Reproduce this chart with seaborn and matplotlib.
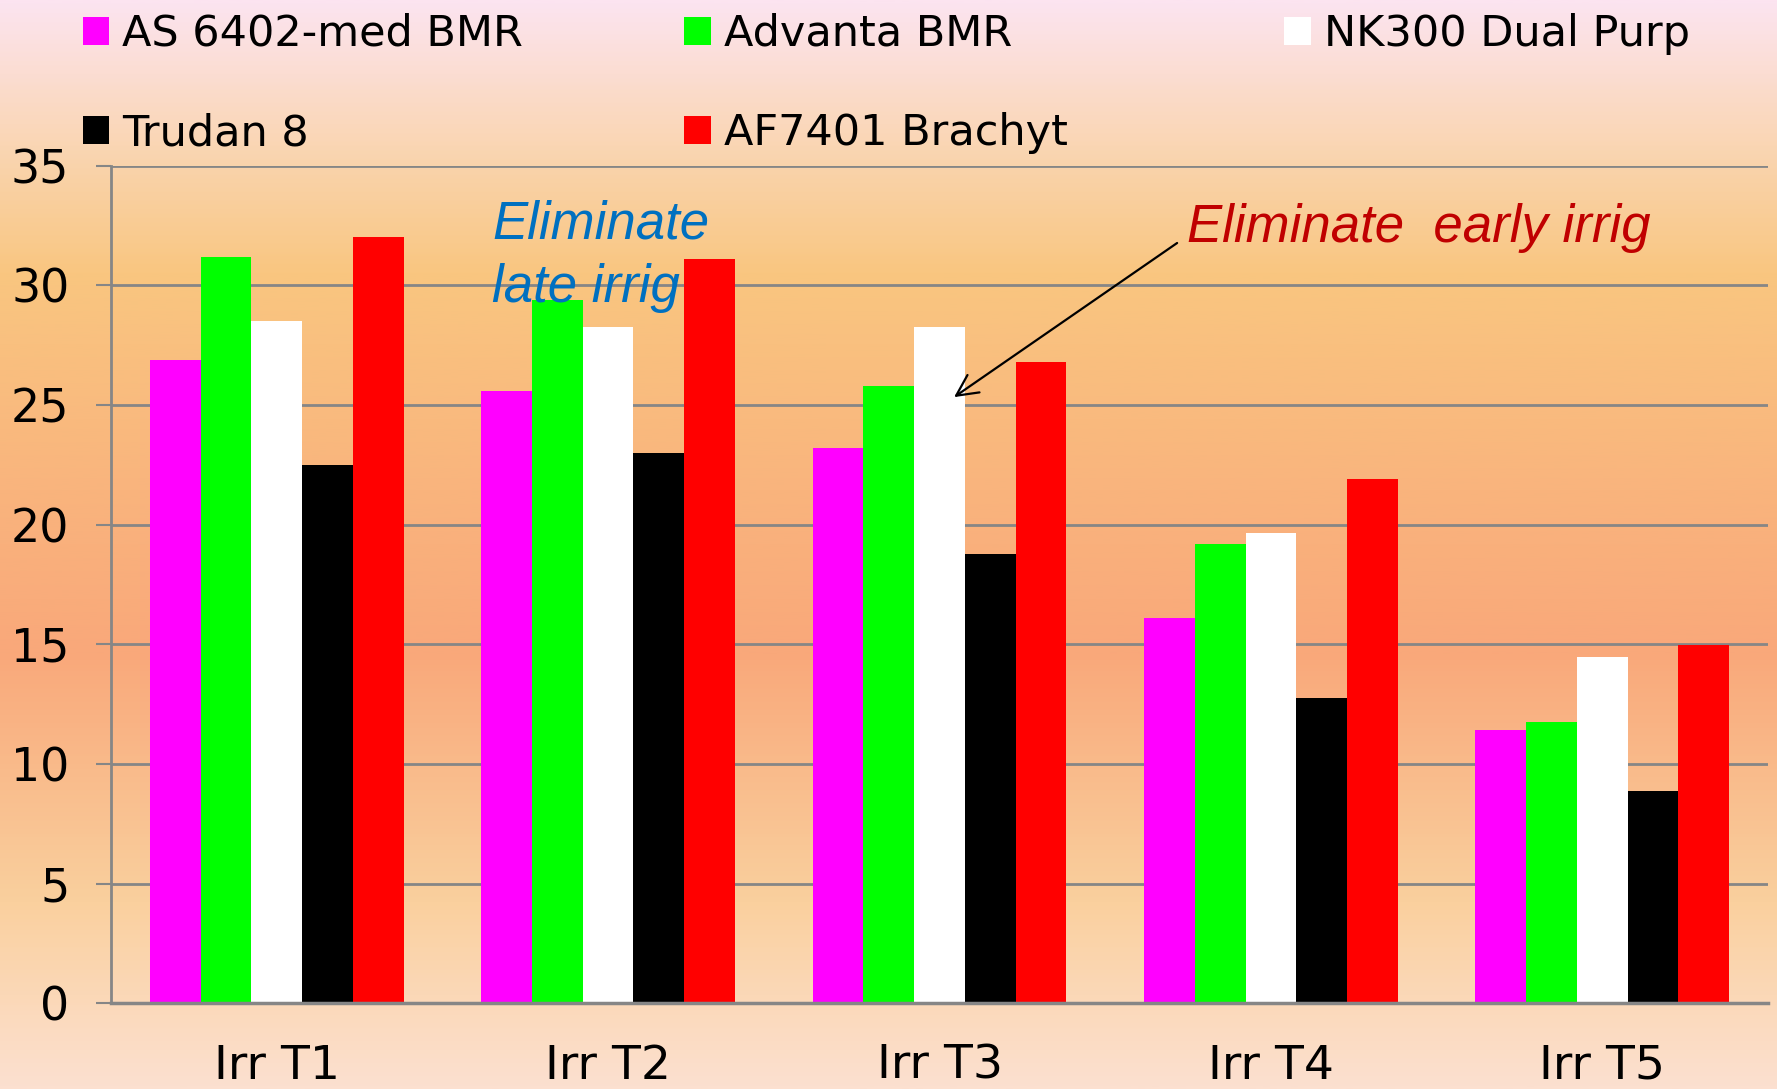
import seaborn as sns
import matplotlib.pyplot as plt
import numpy as np
import pandas as pd
from matplotlib.colors import LinearSegmentedColormap

# data
treatments = ['Irr T1', 'Irr T2', 'Irr T3', 'Irr T4', 'Irr T5']
varieties = ['AS 6402-med BMR', 'Advanta BMR', 'NK300 Dual Purp', 'Trudan 8', 'AF7401 Brachyt']
as6402 = [26.9, 25.6, 23.2, 16.1, 11.4]
advanta = [31.2, 29.4, 25.8, 19.2, 11.75]
nk300 = [28.5, 28.25, 28.27, 19.65, 14.47]
trudan = [22.5, 23.0, 18.76, 12.77, 8.86]
af7401 = [32.0, 31.1, 26.8, 21.9, 14.96]
colors = ['#FF00FF', '#00FF00', '#FFFFFF', '#000000', '#FF0000']

rows = []
for name, vals in zip(varieties, [as6402, advanta, nk300, trudan, af7401]):
    for t, v in zip(treatments, vals):
        rows.append({'treatment': t, 'variety': name, 'value': v})
df = pd.DataFrame(rows)

sns.set_style('white')
plt.rcParams['font.family'] = ['DejaVu Sans']
plt.rcParams['text.color'] = 'black'
plt.rcParams['xtick.labelcolor'] = 'black'
plt.rcParams['ytick.labelcolor'] = 'black'

fig = plt.figure(figsize=(17.77, 10.89), dpi=100)

# gradient background
bg = fig.add_axes([0, 0, 1, 1], zorder=-10)
stops = [(0.00, (252, 228, 240)), (0.13, (250, 214, 180)), (0.25, (249, 198, 128)),
         (0.45, (249, 180, 125)), (0.60, (249, 168, 122)), (0.83, (250, 208, 158)),
         (1.00, (252, 224, 208))]
cmap = LinearSegmentedColormap.from_list('bg', [(p, tuple(c / 255 for c in rgb)) for p, rgb in stops])
bg.imshow(np.linspace(0, 1, 500).reshape(-1, 1), aspect='auto', cmap=cmap, extent=[0, 1, 0, 1])
bg.axis('off')

ax = fig.add_axes([111 / 1777, 1 - 1003.3 / 1089, (1768 - 111) / 1777, (1003.3 - 165.7) / 1089])
ax.set_facecolor('none')

sns.barplot(data=df, x='treatment', y='value', hue='variety', palette=colors,
            width=0.766, saturation=1, errorbar=None, linewidth=0, ax=ax)

grey = '#868686'
ax.set_xlim(-0.5, 4.5)
ax.set_ylim(0, 35)
ax.set_yticks(range(0, 36, 5))
ax.yaxis.grid(True, color=grey, lw=2)
ax.set_axisbelow(True)
ax.set_xlabel('')
ax.set_ylabel('')
for s in ['top', 'right']:
    ax.spines[s].set_visible(False)
for s in ['left', 'bottom']:
    ax.spines[s].set_color(grey)
    ax.spines[s].set_linewidth(2)
ax.spines['bottom'].set_linewidth(2.5)

ax.set_xticks(np.arange(-0.5, 5, 1), minor=True)
ax.tick_params(axis='x', which='major', length=0, pad=29, labelsize=34, labelcolor='black')
ax.tick_params(axis='x', which='minor', length=11, width=1.5, color=grey, direction='out')
ax.tick_params(axis='y', length=11, width=1.5, color=grey, pad=19, labelsize=33,
               left=True, labelcolor='black')

# annotations
ann_font = dict(family='Liberation Sans', style='italic', fontsize=38)
ax.text(0.65, 31.94, 'Eliminate', color='#0070C0', va='baseline', zorder=5, **ann_font)
ax.text(0.65, 29.32, 'late irrig', color='#0070C0', va='baseline', zorder=1, **ann_font)
ax.text(2.747, 31.81, 'Eliminate  early irrig', color='#C00000', va='baseline', zorder=5, **ann_font)
ax.annotate('', xy=(2.044, 25.33), xytext=(2.717, 31.77),
            arrowprops=dict(arrowstyle='->', color='black', lw=1.6, mutation_scale=38,
                            shrinkA=0, shrinkB=0), zorder=6)

# legend: three columns, filled row-wise
handles, labels = ax.get_legend_handles_labels()
ax.get_legend().remove()
cols = [[0, 3], [1, 4], [2]]
xs = [82.7, 684, 1284]
for idx, x in zip(cols, xs):
    fig.legend([handles[i] for i in idx], [labels[i] for i in idx],
               loc='upper left', bbox_to_anchor=(x / 1777, 1 - 13 / 1089),
               frameon=False, fontsize=31, handlelength=0.62, handleheight=0.62,
               handletextpad=0.3, labelspacing=1.33, borderpad=0, borderaxespad=0,
               labelcolor='black')

fig.savefig('out.png', dpi=100)
